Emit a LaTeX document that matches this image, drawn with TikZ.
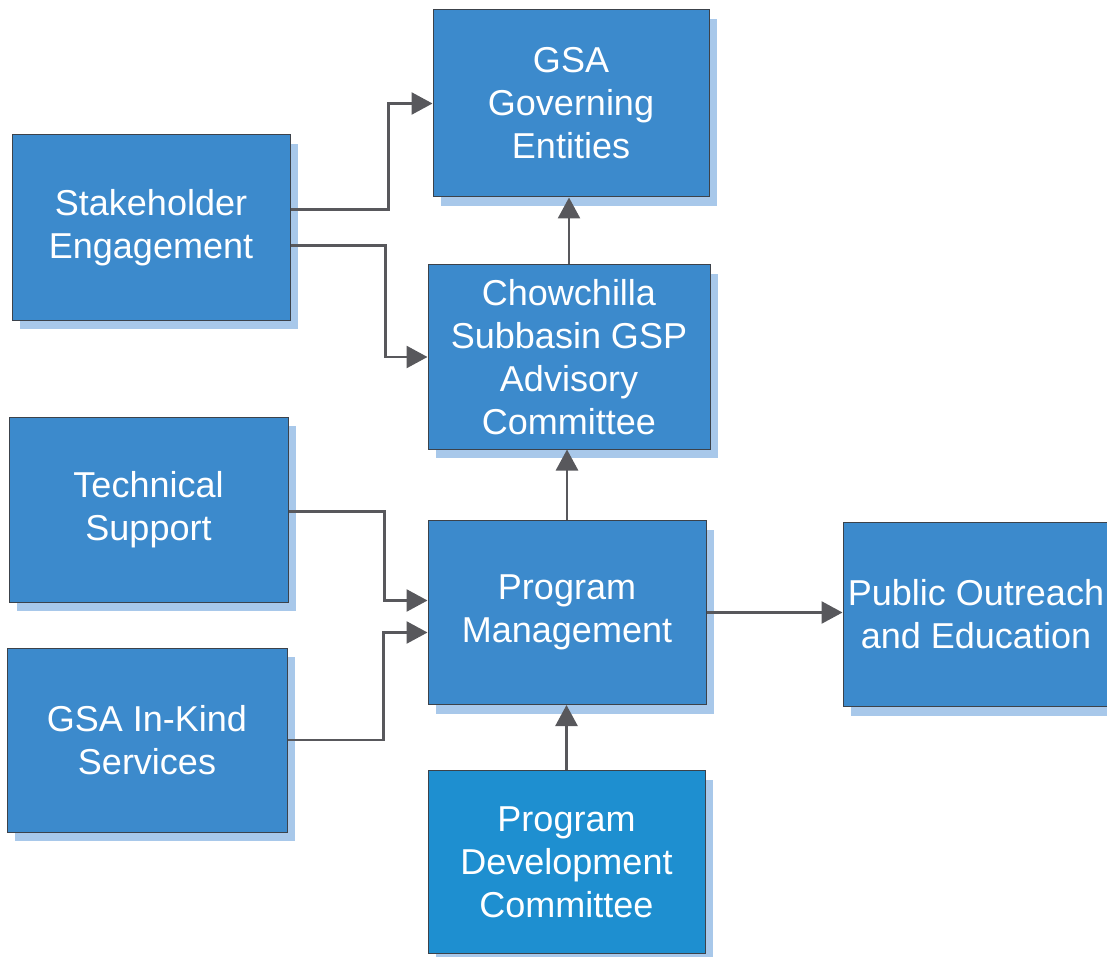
\documentclass[tikz,border=0pt]{standalone}
\usepackage{fontspec}
\setmainfont{Liberation Sans}
\usetikzlibrary{shadows,arrows.meta}
\definecolor{boxblue}{RGB}{60,138,204}
\definecolor{boxcyan}{RGB}{30,143,208}
\definecolor{shadowblue}{RGB}{168,200,234}
\definecolor{edgegray}{RGB}{60,66,74}
\definecolor{conngray}{RGB}{88,88,92}
\tikzset{
  orgbox/.style={draw=edgegray, line width=1pt, fill=boxblue, text=white,
    align=center, inner sep=0pt, font=\fontsize{36}{43}\selectfont,
    drop shadow={shadow xshift=8pt, shadow yshift=-9pt, fill=shadowblue, opacity=1, draw=none}},
  conn/.style={draw=conngray, line width=2.6pt, -{Triangle[length=21pt,width=22pt]}},
}
\begin{document}
\begin{tikzpicture}[x=1pt,y=-1pt]
\useasboundingbox (0,0) rectangle (1107,957);
\node[orgbox, minimum width=276pt, minimum height=187pt] (gsa) at (571,103.5) {GSA\\Governing\\Entities};
\node[orgbox, minimum width=278pt, minimum height=185pt] (se) at (151,227.5) {Stakeholder\\Engagement};
\node[orgbox, minimum width=282pt, minimum height=184pt] (cc) at (569,357) {Chowchilla\\Subbasin GSP\\Advisory\\Committee};
\node[orgbox, minimum width=279pt, minimum height=185pt] (ts) at (148.5,509.5) {Technical\\Support};
\node[orgbox, minimum width=278pt, minimum height=184pt] (pm) at (567,612.5) {Program\\Management};
\node[orgbox, minimum width=266pt, minimum height=184pt] (po) at (976,614.5) {Public Outreach\\and Education};
\node[orgbox, minimum width=280pt, minimum height=184pt] (ik) at (147,740) {GSA In-Kind\\Services};
\node[orgbox, fill=boxcyan, minimum width=277pt, minimum height=183pt] (pdc) at (566.5,862) {Program\\Development\\Committee};

\draw[conn] ([yshift=18pt]se.east) -- ++(98,0) |- (gsa.west);
\draw[conn] ([yshift=-18pt]se.east) -- ++(95,0) |- (cc.west);
\draw[conn] ([yshift=-2pt]ts.east) -- ++(96,0) |- ([yshift=12pt]pm.west);
\draw[conn] (ik.east) -- ++(96,0) |- ([yshift=-20pt]pm.west);
\draw[conn] (pm.north) -- (pm.north |- cc.south);
\draw[conn] (cc.north) -- (cc.north |- gsa.south);
\draw[conn] (pdc.north) -- (pdc.north |- pm.south);
\draw[conn] (pm.east) -- (pm.east -| po.west);
\end{tikzpicture}
\end{document}
